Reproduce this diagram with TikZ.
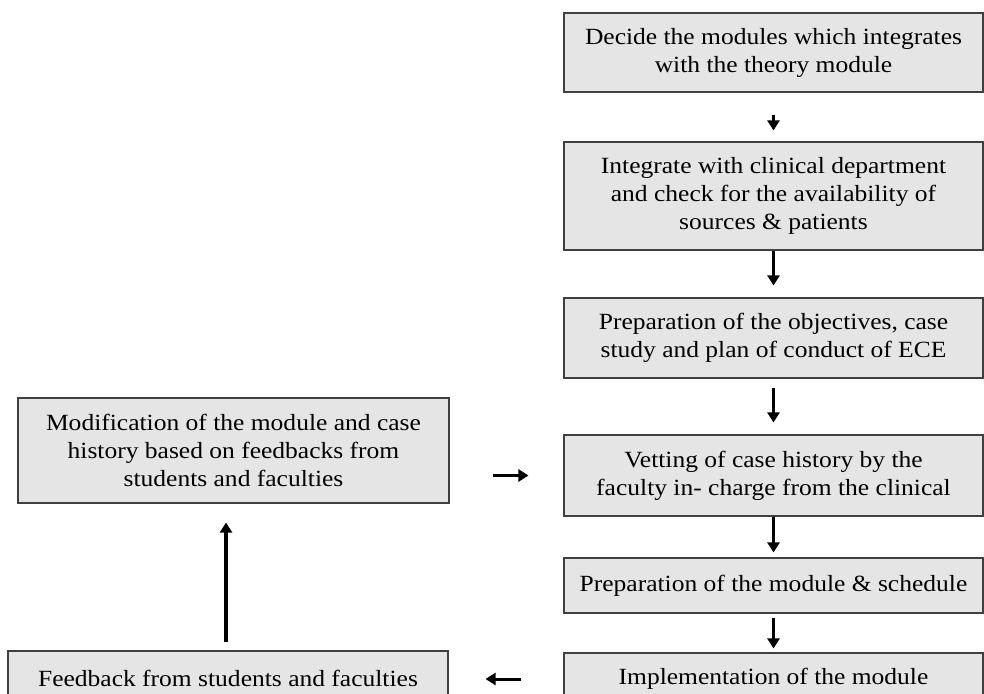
\documentclass[tikz,border=0pt]{standalone}
\usepackage{fontspec}
\setmainfont{Liberation Serif}[FakeStretch=1.1]
\usetikzlibrary{arrows.meta}

\begin{document}
\begin{tikzpicture}[x=1pt,y=-1pt]
\tikzstyle{every node}+=[inner sep=0pt]
\tikzstyle{stepbox}=[draw=black!75, line width=1.1pt, fill=black!10, align=center, font=\fontsize{23.2}{28}\selectfont]
\tikzstyle{flow}=[line width=3pt, -{Triangle[width=12pt,length=10pt]}]
\useasboundingbox (0,0) rectangle (984,693);
\node [stepbox, minimum width=419, minimum height=79] (s0) at (773.5,52.5) {Decide the modules which integrates\\with the theory module};
\node [stepbox, minimum width=419, minimum height=108] (s1) at (773.5,196) {Integrate with clinical department\\and check for the availability of\\sources \& patients};
\node [stepbox, minimum width=419, minimum height=80] (s2) at (773.5,338) {Preparation of the objectives, case\\study and plan of conduct of ECE};
\node [stepbox, minimum width=419, minimum height=81] (s3) at (773.5,475.5) {Vetting of case history by the\\faculty in- charge from the clinical};
\node [stepbox, minimum width=419, minimum height=55] (s4) at (773.5,585.5) {Preparation of the module \& schedule};
\node [stepbox, minimum width=419, minimum height=52] (s5) at (773.5,679) {Implementation of the module};
\node [stepbox, minimum width=440, minimum height=54] (fb) at (228,678) {Feedback from students and faculties};
\node [stepbox, minimum width=431, minimum height=105] (mod) at (233.5,450.5) {Modification of the module and case\\history based on feedbacks from\\students and faculties};
\draw [flow, shorten <=22pt, shorten >=11pt] (s0) -- (s1);
\draw [flow, shorten >=12pt] (s1) -- (s2);
\draw [flow, shorten <=9pt, shorten >=12pt] (s2) -- (s3);
\draw [flow, shorten >=5pt] (s3) -- (s4);
\draw [flow, shorten <=4pt, shorten >=4pt] (s4) -- (s5);
\draw [flow, shorten <=42pt, shorten >=37pt] (s5.west) -- (fb.east |- s5.west);
\draw [flow, line width=3.6pt, shorten <=8pt, shorten >=19pt] (fb.north -| 226,0) -- (mod.south -| 226,0);
\draw [flow, shorten <=43pt, shorten >=35pt] (mod.east |- s3.west) -- (s3.west);
\end{tikzpicture}
\end{document}
